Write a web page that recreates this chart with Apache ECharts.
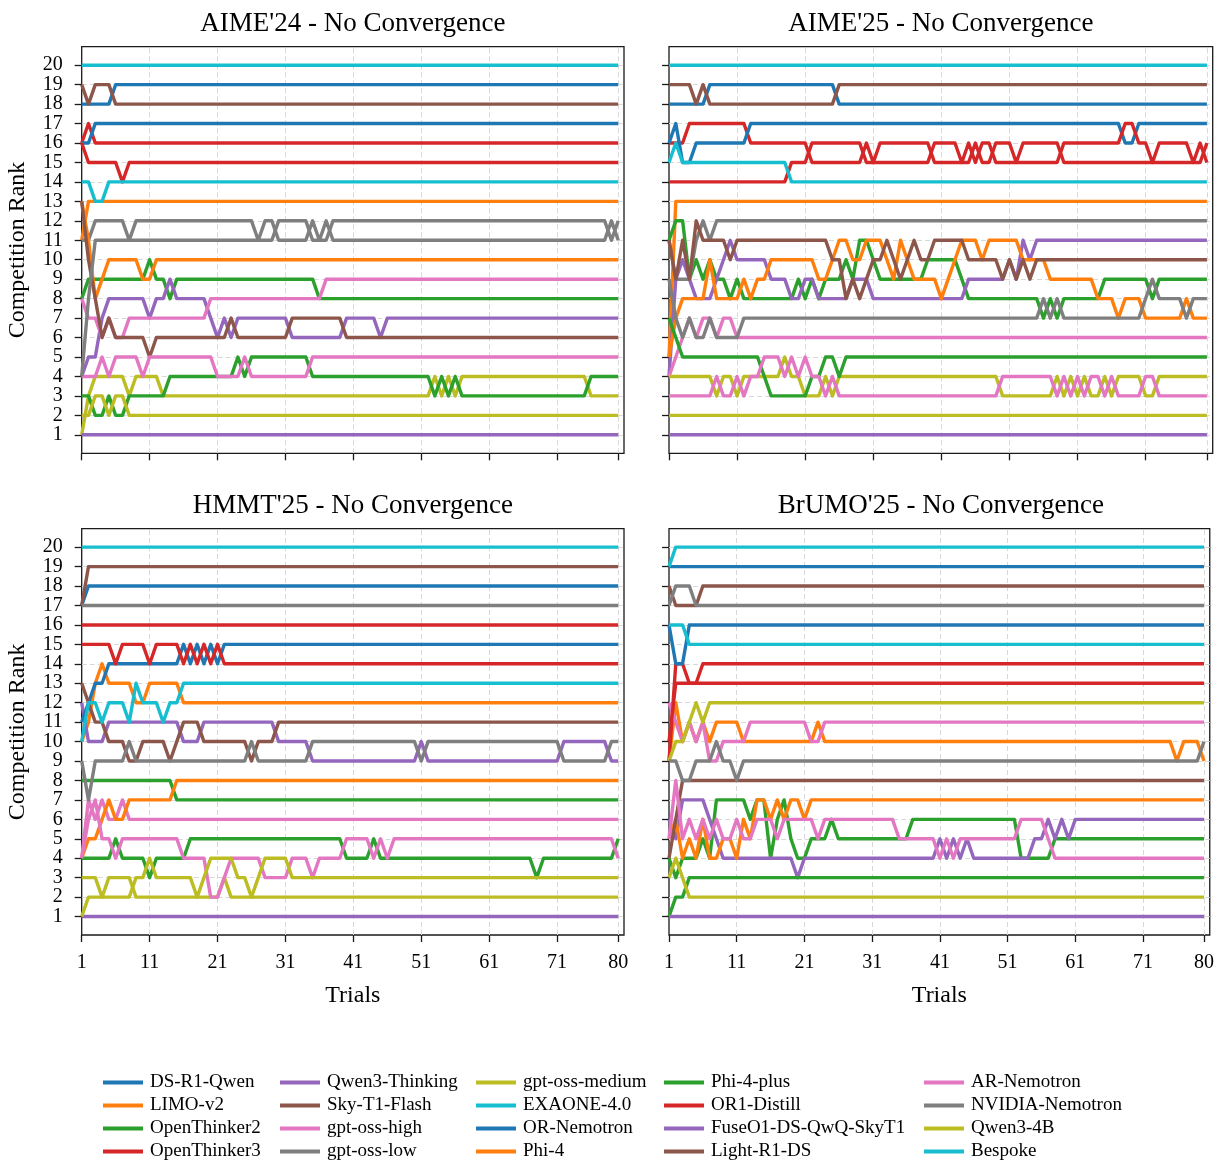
<!DOCTYPE html>
<html><head><meta charset="utf-8">
<script src="https://cdn.jsdelivr.net/npm/echarts@6/dist/echarts.min.js"></script>
<style>html,body{margin:0;padding:0;background:#fff}#c{width:1217px;height:1160px}</style>
</head><body><div id="c"></div>
<script>
// ---------------- DATA ----------------
const seriesNames = ["DS-R1-Qwen","LIMO-v2","OpenThinker2","OpenThinker3","Qwen3-Thinking","Sky-T1-Flash","gpt-oss-high","gpt-oss-low","gpt-oss-medium","EXAONE-4.0","OR-Nemotron","Phi-4","Phi-4-plus","OR1-Distill","FuseO1-DS-QwQ-SkyT1","Light-R1-DS","AR-Nemotron","NVIDIA-Nemotron","Qwen3-4B","Bespoke"];
const panelTitles = ["AIME'24 - No Convergence","AIME'25 - No Convergence","HMMT'25 - No Convergence","BrUMO'25 - No Convergence"];
const trialTicks = [1,11,21,31,41,51,61,71,80];
const rankTicks = [1,2,3,4,5,6,7,8,9,10,11,12,13,14,15,16,17,18,19,20];
const numTrials = 80;
// Rank per trial, written as change points [trial, rank]: the rank holds until the next change point.
const aime24 = [
 [[1,18],[6,19]],
 [[1,11],[2,13]],
 [[1,8],[2,9],[11,10],[12,9],[14,8],[15,9],[36,8]],
 [[1,16],[2,17],[3,16]],
 [[1,4],[2,5],[4,7],[5,8],[11,7],[12,8],[14,9],[15,8],[20,7],[21,6],[22,7],[23,6],[24,7],[32,6],[40,7],[45,6],[46,7]],
 [[1,19],[2,18],[3,19],[6,18]],
 [[1,8],[2,7],[4,6],[5,7],[6,6],[8,7],[20,8],[37,9]],
 [[1,11],[3,12],[8,11],[9,12],[27,11],[28,12],[30,11],[35,12],[36,11],[37,12],[38,11],[79,12],[80,11]],
 [[1,1],[2,3],[3,4],[8,3],[9,4],[13,3],[53,4],[54,3],[55,4],[56,3],[57,4],[76,3]],
 [[1,20]],
 [[1,16],[3,17]],
 [[1,13],[2,11],[3,8],[4,9],[5,10],[10,9],[12,10]],
 [[1,3],[3,2],[5,3],[6,2],[8,3],[14,4],[24,5],[25,4],[26,5],[35,4],[53,3],[54,4],[55,3],[56,4],[57,3],[76,4]],
 [[1,16],[2,15],[7,14],[8,15]],
 [[1,1]],
 [[1,13],[2,10],[3,8],[4,6],[5,7],[6,6],[11,5],[12,6],[23,7],[24,6],[32,7],[40,6]],
 [[1,4],[4,5],[5,4],[6,5],[10,4],[11,5],[21,4],[25,5],[26,4],[35,5]],
 [[1,4],[2,8],[3,11],[30,12],[35,11],[38,12],[79,11],[80,12]],
 [[1,2],[3,3],[5,2],[6,3],[8,2]],
 [[1,14],[3,13],[5,14]]
];
const aime25 = [
 [[1,18],[7,19],[26,18]],
 [[1,5],[2,13]],
 [[1,11],[2,12],[4,9],[5,10],[6,9],[7,10],[8,9],[10,8],[11,9],[12,8],[20,9],[21,8],[22,9],[23,8],[24,9],[27,10],[28,9],[29,11],[31,10],[32,9],[39,10],[44,9],[45,8],[56,7],[57,8],[58,7],[59,8],[65,9],[72,8],[73,9]],
 [[1,16],[4,17],[13,16],[22,15],[30,16],[31,15],[32,16],[40,15],[46,16],[47,15],[49,16],[52,15],[53,16],[59,15],[80,16]],
 [[1,4],[2,9],[3,10],[4,9],[5,8],[8,9],[9,10],[10,11],[11,10],[16,9],[19,8],[21,9],[23,8],[28,9],[31,8],[45,9],[51,10],[52,9],[53,11],[54,10],[55,11]],
 [[1,19],[5,18],[6,19],[7,18],[26,19]],
 [[1,4],[2,5],[3,6],[4,7],[5,6],[6,7],[8,6],[9,7],[11,6]],
 [[1,11],[2,9],[5,11],[6,12],[7,11],[8,12]],
 [[1,4],[8,3],[9,4],[11,3],[12,4],[18,5],[19,4],[21,3],[24,4],[25,3],[26,4],[50,3],[58,4],[59,3],[60,4],[61,3],[62,4],[63,3],[65,4],[66,3],[67,4],[71,3],[73,4]],
 [[1,20]],
 [[1,16],[2,17],[3,15],[5,16],[13,17],[68,16],[70,17]],
 [[1,5],[2,7],[3,8],[7,10],[8,8],[12,9],[13,8],[14,9],[16,10],[23,9],[25,10],[26,11],[28,10],[30,11],[33,10],[34,9],[35,11],[36,10],[37,9],[41,8],[42,9],[43,10],[44,11],[47,10],[48,11],[53,10],[57,9],[64,8],[67,7],[68,8],[71,7],[77,8],[78,7]],
 [[1,7],[2,6],[3,5],[15,4],[16,3],[22,4],[24,5],[26,4],[27,5]],
 [[1,14],[19,15],[22,16],[30,15],[40,16],[44,15],[45,16],[46,15],[47,16],[49,15],[59,16],[68,17],[70,16],[72,15],[73,16],[78,15],[79,16],[80,15]],
 [[1,1]],
 [[1,11],[2,9],[3,11],[4,9],[5,12],[6,11],[10,10],[11,11],[25,10],[27,8],[28,9],[29,8],[30,9],[31,10],[33,11],[34,10],[35,9],[36,10],[37,11],[38,10],[40,11],[45,10],[50,9],[51,10],[52,9],[53,10],[54,9],[55,10]],
 [[1,3],[8,4],[9,3],[11,4],[12,3],[13,4],[15,5],[18,4],[19,5],[20,4],[21,5],[22,4],[24,3],[25,4],[26,3],[50,4],[58,3],[59,4],[60,3],[61,4],[62,3],[63,4],[65,3],[66,4],[67,3],[71,4],[73,3]],
 [[1,9],[2,7],[3,6],[4,7],[5,6],[7,7],[8,6],[12,7],[56,8],[57,7],[58,8],[59,7],[71,8],[72,9],[73,8],[77,7],[78,8]],
 [[1,2]],
 [[1,15],[2,16],[3,15],[19,14]]
];
const hmmt25 = [
 [[1,17],[2,18]],
 [[1,10],[2,11],[3,13],[4,14],[5,13],[9,12],[11,13],[16,12]],
 [[1,8],[15,7]],
 [[1,16]],
 [[1,12],[2,10],[5,11],[16,10],[19,11],[30,10],[35,9],[51,10],[52,9],[72,10],[79,9]],
 [[1,17],[2,19]],
 [[1,4],[2,7],[3,6],[4,7],[5,6],[7,7],[8,6]],
 [[1,17]],
 [[1,3],[4,2],[5,3],[9,2],[22,3],[23,2]],
 [[1,20]],
 [[1,11],[2,12],[3,13],[5,14],[16,15],[17,14],[18,15],[19,14],[20,15],[21,14],[22,15]],
 [[1,4],[2,5],[4,6],[5,7],[6,6],[8,7],[15,8]],
 [[1,4],[6,5],[7,4],[11,3],[12,4],[17,5],[40,4],[44,5],[45,4],[68,3],[69,4],[80,5]],
 [[1,15],[6,14],[7,15],[11,14],[12,15],[16,14],[17,15],[18,14],[19,15],[20,14],[21,15],[22,14]],
 [[1,1]],
 [[1,13],[2,12],[3,11],[5,10],[8,9],[10,10],[14,9],[15,10],[16,11],[19,10],[26,9],[27,10],[30,11]],
 [[1,4],[2,6],[3,7],[4,5],[6,4],[7,5],[16,4],[20,2],[22,3],[23,4],[28,3],[32,4],[35,3],[36,4],[40,5],[44,4],[45,5],[46,4],[47,5],[80,4]],
 [[1,9],[2,7],[3,9],[8,10],[9,9],[26,10],[27,9],[35,10],[51,9],[52,10],[72,9],[79,10]],
 [[1,1],[2,2],[9,3],[11,4],[12,3],[18,2],[19,3],[20,4],[24,3],[26,2],[27,3],[28,4],[32,3]],
 [[1,10],[2,12],[4,11],[5,12],[8,11],[9,13],[10,12],[13,11],[14,12],[16,13]]
];
const brumo25 = [
 [[1,19]],
 [[1,9],[2,12],[3,10],[4,11],[5,10],[6,11],[7,10],[8,11],[12,10],[23,11],[24,10],[76,9],[77,10],[80,9]],
 [[1,4],[2,3],[3,4],[6,5],[7,4],[8,7],[13,6],[14,7],[16,4],[17,6],[18,7],[19,5],[20,4],[22,5],[25,6],[26,5],[37,6],[53,4],[58,5]],
 [[1,9],[2,14],[4,13],[6,14]],
 [[1,6],[2,5],[3,7],[7,6],[8,5],[9,4],[20,3],[21,4],[41,5],[42,4],[43,5],[44,4],[45,5],[46,4],[55,5],[57,6],[58,5],[59,6],[60,5],[61,6]],
 [[1,18],[2,17],[6,18]],
 [[1,12],[2,11],[3,10],[4,11],[5,10],[6,11],[7,9],[9,10],[13,11],[22,10],[24,11]],
 [[1,17],[2,18],[5,17]],
 [[1,9],[2,10],[4,11],[5,12],[6,11],[7,12]],
 [[1,19],[2,20]],
 [[1,16],[2,14],[4,16]],
 [[1,5],[2,6],[3,4],[4,5],[5,4],[6,6],[7,4],[9,5],[11,4],[12,6],[13,5],[14,7],[16,6],[17,7],[18,6],[19,7],[21,6],[22,7]],
 [[1,1],[2,2],[4,3]],
 [[1,10],[2,13]],
 [[1,1]],
 [[1,4],[2,6],[3,8]],
 [[1,5],[2,8],[3,5],[4,6],[5,5],[6,6],[7,5],[8,6],[9,5],[11,6],[12,5],[14,6],[17,5],[18,6],[21,6],[23,5],[24,6],[35,5],[41,4],[42,5],[43,4],[44,5],[53,6],[57,5],[58,4]],
 [[1,9],[3,8],[5,9],[8,10],[9,9],[11,8],[12,9],[80,10]],
 [[1,3],[2,4],[3,3],[4,2]],
 [[1,16],[4,15]]
];
const panels = [aime24, aime25, hmmt25, brumo25];

// ---------------- STYLE / LAYOUT ----------------
const tab10 = ['#1f77b4','#ff7f0e','#2ca02c','#d62728','#9467bd','#8c564b','#e377c2','#7f7f7f','#bcbd22','#17becf'];
const FONT = 'Liberation Serif';
const boxes = [
  {left:81.7, top:46.7, width:542.3, height:406.6},
  {left:669, top:46.7, width:543.7, height:406.6},
  {left:81.7, top:528.7, width:542.3, height:406.3},
  {left:669, top:528.7, width:543.7, height:406.3}
];
const oddRanks = rankTicks.filter(r => r % 2 === 1);
const evenRanks = rankTicks.filter(r => r % 2 === 0);

function expand(changes){
  const out = [];
  let k = 0, r = changes[0][1];
  for (let t = 1; t <= numTrials; t++){
    while (k < changes.length && changes[k][0] <= t){ r = changes[k][1]; k++; }
    out.push([t, r]);
  }
  return out;
}

const grid = boxes.map(b => Object.assign({show:true, borderColor:'#1a1a1a', borderWidth:1.3, backgroundColor:'rgba(0,0,0,0)'}, b));
const xAxis = boxes.map((b,i) => ({
  type:'value', gridIndex:i, min:1, max:80.85,
  axisLine:{show:false},
  axisTick:{show:true, customValues:trialTicks, length:7, lineStyle:{color:'#1a1a1a', width:1.3}},
  axisLabel:{show:i>=2, customValues:trialTicks, showMinLabel:true, showMaxLabel:true, fontSize:20, fontFamily:FONT, color:'#000', margin:18},
  splitLine:{show:false},
  name: i>=2 ? 'Trials' : '', nameLocation:'middle', nameGap:49, nameMoveOverlap:false,
  nameTextStyle:{fontSize:24, fontFamily:FONT, color:'#000'}
}));
const labelStyle = {fontSize:20, fontFamily:FONT, color:'#000', margin:19, showMinLabel:true, showMaxLabel:true, hideOverlap:false};
// main y axes (ticks + odd rank labels) for all four grids
const yAxis = boxes.map((b,i) => ({
  type:'value', gridIndex:i, min:0.05, max:20.95, position:'left', offset:0,
  axisLine:{show:false},
  axisTick:{show:true, customValues:rankTicks, length:7, lineStyle:{color:'#1a1a1a', width:1.3}},
  axisLabel:Object.assign({show:i%2===0, customValues:oddRanks}, labelStyle),
  splitLine:{show:false},
  name: i%2===0 ? 'Competition Rank' : '', nameLocation:'middle', nameRotate:90, nameGap:52, nameMoveOverlap:false,
  nameTextStyle:{fontSize:24, fontFamily:FONT, color:'#000'}
}));
// companion y axes carrying the even rank labels on the left panels
[0,2].forEach(i => yAxis.push({
  type:'value', gridIndex:i, min:0.05, max:20.95, position:'left', offset:0,
  axisLine:{show:false}, axisTick:{show:false}, splitLine:{show:false},
  axisLabel:Object.assign({show:true, customValues:evenRanks}, labelStyle)
}));

const series = [];
boxes.forEach((b,i) => {
  const gl = [];
  trialTicks.slice(1).forEach(v => gl.push({xAxis:v}));
  rankTicks.forEach(v => gl.push({yAxis:v}));
  series.push({
    type:'line', xAxisIndex:i, yAxisIndex:i, z:0, silent:true, symbol:'none',
    data:[[1,0.05]], lineStyle:{opacity:0},
    markLine:{silent:true, z:0, symbol:['none','none'], label:{show:false}, animation:false,
      lineStyle:{color:'#d8d8d8', type:[5,3], width:1}, emphasis:{disabled:true}, data:gl}
  });
  panels[i].forEach((changes, s) => {
    series.push({
      name: seriesNames[s], type:'line', xAxisIndex:i, yAxisIndex:i,
      data: expand(changes), symbol:'none', showSymbol:false, z:2+s*0.01,
      color: tab10[s % 10],
      lineStyle:{width:3.4, color: tab10[s % 10], join:'round', cap:'butt'},
      emphasis:{disabled:true}, silent:true
    });
  });
});

const title = boxes.map((b,i) => ({
  text: panelTitles[i], left: b.left + b.width/2, top: b.top - 36, textAlign:'center', padding:0,
  textStyle:{fontSize:27, fontWeight:'normal', fontFamily:FONT, color:'#000'}
}));

const colLefts = [103, 280, 476, 664, 924];
const legend = colLefts.map((x,c) => ({
  data: seriesNames.slice(c*4, c*4+4), orient:'vertical', left:x, top:1073, height:120, padding:0,
  itemWidth:40, itemHeight:4, itemGap:4, icon:'rect', selectedMode:false,
  textStyle:{fontSize:19, fontFamily:FONT, color:'#000', lineHeight:18, padding:[0,0,0,2]}
}));

const chart = echarts.init(document.getElementById('c'), null, {renderer:'canvas'});
chart.setOption({
  animation:false, backgroundColor:'#ffffff',
  title, legend, grid, xAxis, yAxis, series
});
</script></body></html>
